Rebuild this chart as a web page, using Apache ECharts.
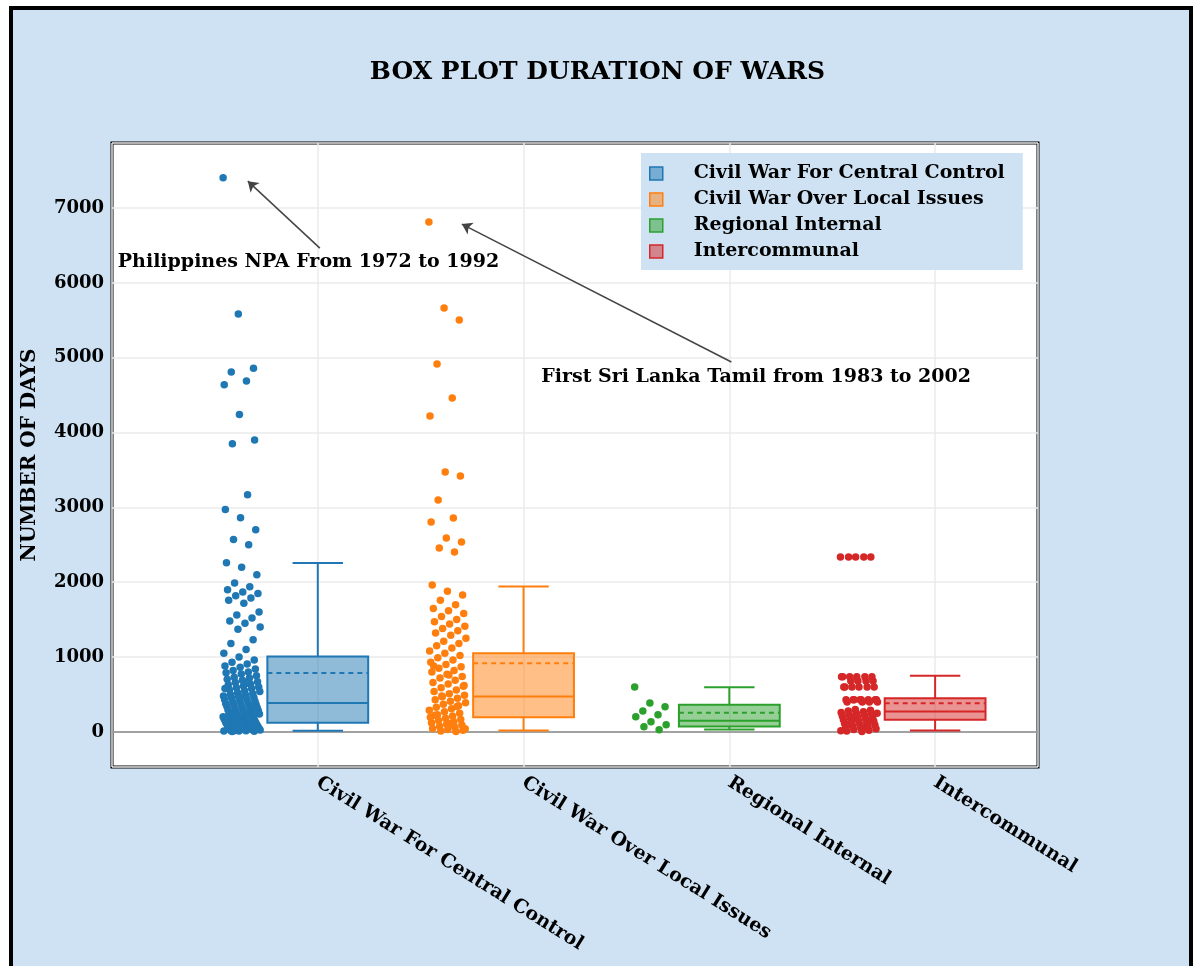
<!DOCTYPE html>
<html>
<head>
<meta charset="utf-8">
<script src="https://cdn.jsdelivr.net/npm/echarts@6/dist/echarts.min.js"></script>
<style>
  body { margin: 0; background: #fff; }
  #frame { position: absolute; left: 9px; top: 6px; width: 1176px; height: 990px;
           border: 4px solid #000; background: #cfe2f3; }
  #chart { position: absolute; left: 0; top: 0; width: 1195px; height: 966px; }
</style>
</head>
<body>
<div id="frame"></div>
<div id="chart"></div>
<script>
// categories and colours
var categories = ['Civil War For Central Control', 'Civil War Over Local Issues', 'Regional Internal', 'Intercommunal'];
var colors = ['#1f77b4', '#ff7f0e', '#2ca02c', '#d62728'];
var fills = ['rgba(31,119,180,0.5)', 'rgba(255,127,14,0.5)', 'rgba(44,160,44,0.5)', 'rgba(214,39,40,0.5)'];

// box stats: [min, q1, median, q3, max, mean] (days)
var centralBox = [15, 120, 387, 1006, 2258, 788];
var localBox = [17, 196, 471, 1051, 1941, 918];
var regionalBox = [30, 71, 147, 361, 597, 254];
var interBox = [17, 160, 271, 450, 748, 383];

// individual war durations (days)
var centralPts = [7406, 5584, 4860, 4810, 4690, 4640, 4240, 3900, 3850, 3170, 2970, 2860, 2700, 2570, 2500,
  2260, 2200, 2100, 1990, 1940, 1900, 1870, 1850, 1820, 1790, 1760, 1720, 1600, 1560, 1520, 1480, 1450,
  1400, 1370, 1230, 1180, 1100, 1050, 1000, 960, 930, 905, 880, 862, 840, 821, 800, 790, 772, 750, 731,
  720, 702, 690, 671, 660, 640, 628, 611, 600, 590, 578, 561, 550, 540, 522, 510, 500, 491, 480, 470, 460,
  452, 440, 431, 420, 410, 400, 392, 380, 371, 365, 360, 350, 341, 330, 322, 310, 300, 295, 290, 281, 270,
  262, 250, 245, 240, 231, 220, 215, 210, 200, 195, 190, 182, 175, 170, 160, 155, 150, 145, 140, 131, 125,
  120, 115, 110, 101, 95, 90, 85, 80, 75, 70, 65, 60, 55, 50, 45, 40, 35, 30, 28, 25, 22, 20, 18, 15, 12,
  10, 8, 5, 650, 580, 470, 330, 260, 180, 120, 60, 30, 14];
var localPts = [6813, 5664, 5504, 4916, 4462, 4221, 3473, 3420, 3099, 2859, 2805, 2592, 2538, 2458, 2404,
  1964, 1880, 1830, 1760, 1700, 1650, 1620, 1580, 1540, 1500, 1470, 1440, 1410, 1380, 1350, 1320, 1290,
  1250, 1210, 1180, 1150, 1120, 1080, 1050, 1020, 990, 960, 930, 900, 870, 850, 820, 800, 770, 740, 720,
  690, 660, 640, 610, 590, 560, 540, 510, 490, 470, 450, 430, 410, 390, 370, 350, 330, 310, 290, 270, 250,
  230, 210, 195, 180, 165, 150, 135, 120, 105, 90, 75, 60, 45, 30, 20, 12, 6, 880, 760, 620, 480, 340, 220,
  110, 40];
var regionalPts = [600, 387, 334, 280, 227, 200, 134, 94, 67, 27];
var interPts = [2338, 2338, 2338, 2338, 2338, 735, 735, 735, 735, 735, 735, 680, 680, 680, 680, 600, 600,
  600, 600, 600, 600, 430, 430, 430, 430, 430, 430, 430, 430, 400, 400, 400, 400, 300, 290, 280, 270, 260,
  250, 240, 230, 220, 210, 200, 190, 180, 170, 160, 150, 140, 130, 120, 110, 100, 90, 80, 70, 60, 50, 40,
  30, 20, 10, 5, 250, 200, 150, 100, 50, 15];

var boxes = [centralBox, localBox, regionalBox, interBox];
var points = [centralPts, localPts, regionalPts, interPts];

var BOX_W = 0.49;
var STRIP_OFFSET = -0.37;
var STRIP_W = 0.18;

function stripData(idx, vals) {
  return vals.map(function (v, i) {
    var j = ((i * 7919) % 101) / 100 - 0.5;
    return [idx + STRIP_OFFSET + j * STRIP_W, v];
  });
}

function renderBox(params, api) {
  var x = api.value(0);
  var lo = api.coord([x, api.value(1)]);
  var q1 = api.coord([x, api.value(2)]);
  var md = api.coord([x, api.value(3)]);
  var q3 = api.coord([x, api.value(4)]);
  var hi = api.coord([x, api.value(5)]);
  var mn = api.coord([x, api.value(6)]);
  var half = api.size([BOX_W, 0])[0] / 2;
  var cap = half / 2;
  var c = colors[params.seriesIndex];
  var st = { stroke: c, lineWidth: 2, fill: null };
  return {
    type: 'group',
    children: [
      { type: 'line', shape: { x1: hi[0], y1: hi[1], x2: q3[0], y2: q3[1] }, style: st },
      { type: 'line', shape: { x1: q1[0], y1: q1[1], x2: lo[0], y2: lo[1] }, style: st },
      { type: 'line', shape: { x1: hi[0] - cap, y1: hi[1], x2: hi[0] + cap, y2: hi[1] }, style: st },
      { type: 'line', shape: { x1: lo[0] - cap, y1: lo[1], x2: lo[0] + cap, y2: lo[1] }, style: st },
      { type: 'rect', shape: { x: q3[0] - half, y: q3[1], width: half * 2, height: q1[1] - q3[1] },
        style: { fill: fills[params.seriesIndex], stroke: c, lineWidth: 2 } },
      { type: 'line', shape: { x1: md[0] - half, y1: md[1], x2: md[0] + half, y2: md[1] }, style: st },
      { type: 'line', shape: { x1: mn[0] - half, y1: mn[1], x2: mn[0] + half, y2: mn[1] },
        style: { stroke: c, lineWidth: 2, lineDash: [5, 4], fill: null } }
    ]
  };
}

var FONT = 'DejaVu Serif';

var series = [];
categories.forEach(function (name, i) {
  var b = boxes[i];
  series.push({
    name: name,
    type: 'custom',
    renderItem: renderBox,
    itemStyle: { color: colors[i] },
    encode: { x: 0, y: [1, 2, 3, 4, 5] },
    data: [[i, b[0], b[1], b[2], b[3], b[4], b[5]]],
    z: 3
  });
});
categories.forEach(function (name, i) {
  var s = {
    name: name,
    type: 'scatter',
    symbol: 'circle',
    symbolSize: 7.5,
    itemStyle: { color: colors[i], opacity: 1 },
    data: stripData(i, points[i]),
    z: 4
  };
  if (i === 0) {
    s.markLine = {
      silent: true,
      symbol: ['none', 'arrow'],
      symbolSize: 10,
      label: { show: false },
      lineStyle: { color: '#444', width: 1.5, type: 'solid' },
      data: [
        [{ coord: [0.01, 6465] }, { coord: [-0.34, 7360] }],
        [{ coord: [2.01, 4943] }, { coord: [0.70, 6786] }]
      ]
    };
    s.markPoint = {
      silent: true,
      symbol: 'rect',
      symbolSize: 1,
      itemStyle: { color: 'rgba(0,0,0,0)' },
      label: {
        show: true, position: 'inside', color: '#000',
        fontFamily: FONT, fontWeight: 'bold', fontSize: 19,
        formatter: function (p) { return p.name; }
      },
      data: [
        { name: 'Philippines NPA From 1972 to 1992', coord: [-0.045, 6278] },
        { name: 'First Sri Lanka Tamil from 1983 to 2002', coord: [2.13, 4742] }
      ]
    };
  }
  if (i === 2) {
    s.markLine = {
      silent: true,
      symbol: 'none',
      label: { show: false },
      lineStyle: { color: '#888', width: 1.5, type: 'solid' },
      data: [{ yAxis: 0 }],
      z: 1
    };
  }
  series.push(s);
});

var chart = echarts.init(document.getElementById('chart'));
var option = {
  animation: false,
  title: {
    text: 'BOX PLOT DURATION OF WARS',
    left: 'center',
    top: 55,
    textStyle: { fontFamily: FONT, fontWeight: 'bold', fontSize: 25, color: '#000' }
  },
  legend: {
    orient: 'vertical',
    left: 641,
    top: 153,
    backgroundColor: '#cfe2f3',
    padding: [11, 18, 9, 8],
    itemWidth: 13,
    itemHeight: 13,
    itemGap: 7,
    textStyle: { fontFamily: FONT, fontWeight: 'bold', fontSize: 19, color: '#000',
                 lineHeight: 14, padding: [0, 0, 0, 26] },
    data: categories.map(function (n, i) {
      return { name: n, icon: 'rect',
               itemStyle: { color: fills[i], borderColor: colors[i], borderWidth: 1.5 } };
    })
  },
  grid: {
    left: 112, right: 157, top: 143, bottom: 199,
    show: true, backgroundColor: '#fff', borderColor: '#000', borderWidth: 3
  },
  xAxis: {
    type: 'value',
    min: -1, max: 3.5, interval: 1,
    axisLine: { show: false },
    axisTick: { show: false },
    splitLine: { show: true, lineStyle: { color: '#ebebeb', width: 1.5 } },
    axisLabel: {
      rotate: -32, margin: 14, color: '#000',
      fontFamily: FONT, fontWeight: 'bold', fontSize: 19,
      formatter: function (v) {
        return (v >= 0 && v <= 3 && Math.round(v) === v) ? categories[v] : '';
      }
    }
  },
  yAxis: {
    type: 'value',
    min: -470, max: 7870,
    splitNumber: 8, minInterval: 1000, maxInterval: 1000,
    name: 'NUMBER OF DAYS',
    nameLocation: 'middle',
    nameGap: 72,
    nameTextStyle: { fontFamily: FONT, fontWeight: 'bold', fontSize: 20, color: '#000' },
    axisLine: { show: false },
    axisTick: { show: false },
    splitLine: { show: true, lineStyle: { color: '#ebebeb', width: 1.5 } },
    axisLabel: {
      margin: 8, color: '#000', fontFamily: FONT, fontWeight: 'bold', fontSize: 18,
      formatter: function (v) { return v % 1000 === 0 ? String(v) : ''; }
    }
  },
  series: series
};
chart.setOption(option);
window.addEventListener('resize', function () { chart.resize(); });
</script>
</body>
</html>
